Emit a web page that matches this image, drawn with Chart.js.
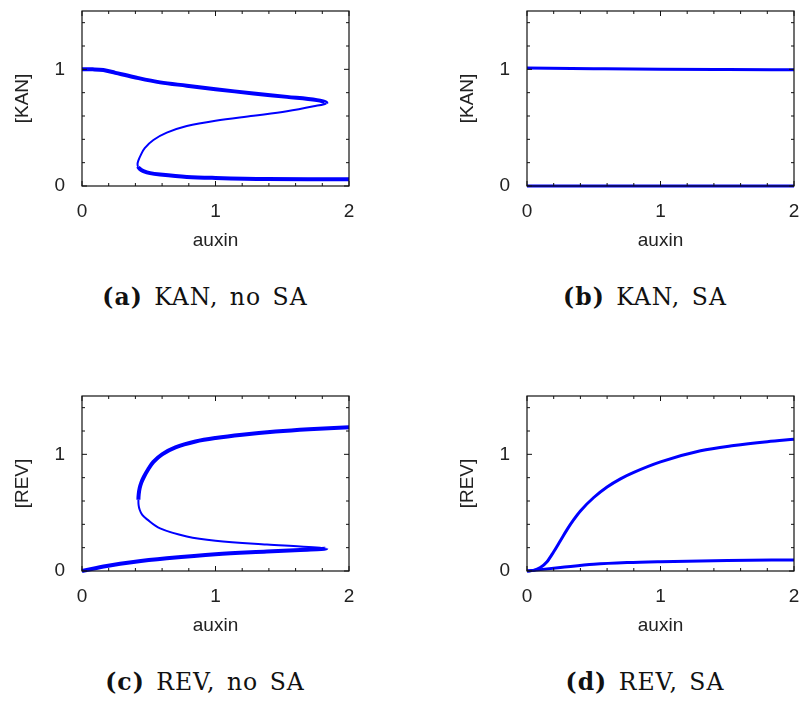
<!DOCTYPE html>
<html>
<head>
<meta charset="utf-8">
<script src="https://cdn.jsdelivr.net/npm/chart.js@4.4.1/dist/chart.umd.min.js"></script>
<style>
  html, body { margin: 0; padding: 0; background: #fff; overflow: hidden; }
  body { width: 803px; height: 706px; position: relative; }
  .panel { position: absolute; width: 358px; height: 260px; }
  .cap {
    position: absolute; width: 300px; text-align: center;
    font-family: "DejaVu Serif", serif; font-size: 23.5px; color: #111;
    white-space: nowrap; letter-spacing: 1px; word-spacing: 3px;
  }
  .cap b { font-weight: bold; }
</style>
</head>
<body>
<div class="panel" style="left:0px;top:0px"><canvas id="chA" width="358" height="260"></canvas></div>
<div class="panel" style="left:445px;top:0px"><canvas id="chB" width="358" height="260"></canvas></div>
<div class="panel" style="left:0px;top:385px"><canvas id="chC" width="358" height="260"></canvas></div>
<div class="panel" style="left:445px;top:385px"><canvas id="chD" width="358" height="260"></canvas></div>

<div class="cap" style="left:55px;top:283px"><b>(a)</b> KAN, no SA</div>
<div class="cap" style="left:495px;top:283px"><b>(b)</b> KAN, SA</div>
<div class="cap" style="left:55px;top:668px"><b>(c)</b> REV, no SA</div>
<div class="cap" style="left:495px;top:668px"><b>(d)</b> REV, SA</div>

<script>
// 目盛りラベル
const xTicks = [0, 1, 2];
const yTicks = [0, 1];

// (a) KAN, SAなし：上の安定枝 → 不安定枝 → 下の安定枝
const kanA_x = [0, 0.08, 0.16, 0.25, 0.385, 0.585, 0.785, 1.0, 1.285, 1.535, 1.76, 1.83,
                1.735, 1.535, 1.285, 1.0, 0.785, 0.635, 0.535, 0.47, 0.44, 0.422, 0.416,
                0.42, 0.435, 0.46, 0.51, 0.585, 0.785, 1.0, 1.385, 2.0];
const kanA_y = [1.0, 1.0, 0.994, 0.97, 0.934, 0.888, 0.86, 0.83, 0.793, 0.764, 0.736, 0.71,
                0.683, 0.64, 0.602, 0.56, 0.514, 0.457, 0.394, 0.325, 0.265, 0.218, 0.19,
                0.165, 0.145, 0.128, 0.11, 0.098, 0.078, 0.069, 0.06, 0.057];
const kanA_stable = [1, 1, 1, 1, 1, 1, 1, 1, 1, 1, 1, 1,
                     0, 0, 0, 0, 0, 0, 0, 0, 0, 0, 0,
                     1, 1, 1, 1, 1, 1, 1, 1, 1];

// (b) KAN, SAあり
const kanB_x = [0, 0.5, 1.0, 1.5, 2.0];
const kanB_hi = [1.011, 1.005, 1.0, 0.998, 0.997];
const kanB_lo = [0, 0, 0, 0, 0];

// (c) REV, SAなし：下の安定枝 → 不安定枝 → 上の安定枝
const revC_x = [0, 0.185, 0.385, 0.635, 1.0, 1.385, 1.635, 1.83,
                1.635, 1.385, 1.0, 0.785, 0.585, 0.485, 0.45, 0.432, 0.424,
                0.4225, 0.425, 0.432, 0.445, 0.465, 0.495, 0.535, 0.6, 0.7, 0.85, 1.0, 1.2, 1.45, 1.7, 2.0];
const revC_y = [0, 0.043, 0.078, 0.109, 0.144, 0.167, 0.181, 0.193,
                0.21, 0.227, 0.26, 0.296, 0.365, 0.445, 0.483, 0.525, 0.565,
                0.61, 0.66, 0.71, 0.76, 0.81, 0.87, 0.935, 1.0, 1.06, 1.11, 1.14, 1.168, 1.195, 1.215, 1.233];
const revC_stable = [1, 1, 1, 1, 1, 1, 1, 1,
                     0, 0, 0, 0, 0, 0, 0, 0, 0,
                     1, 1, 1, 1, 1, 1, 1, 1, 1, 1, 1, 1, 1, 1, 1];

// (d) REV, SAあり
const revD_x = [0, 0.05, 0.1, 0.15, 0.2, 0.25, 0.3, 0.35, 0.4, 0.5, 0.6, 0.7, 0.8, 1.0, 1.3, 1.55, 1.8, 2.0];
const revD_hi = [0, 0.005, 0.03, 0.08, 0.165, 0.26, 0.355, 0.44, 0.515, 0.63, 0.72, 0.79, 0.845, 0.935, 1.03, 1.075, 1.108, 1.129];
const revD_lox = [0, 0.25, 0.5, 0.75, 1.0, 1.5, 2.0];
const revD_lo = [0, 0.029, 0.057, 0.072, 0.08, 0.09, 0.095];

const BLUE = '#0000ff';
const FONT = '"Liberation Sans", Arial, sans-serif';

function pts(xs, ys) {
    return xs.map((v, i) => ({x: v, y: ys[i]}));
}

// 枠と内向きの目盛り線（gnuplot風）
const framePlugin = {
    id: 'frame',
    afterDatasetsDraw(chart) {
        const {ctx, chartArea: a, scales} = chart;
        const sx = scales.x, sy = scales.y;
        ctx.save();
        ctx.strokeStyle = '#111';
        ctx.lineWidth = 1.2;
        ctx.strokeRect(a.left, a.top, a.right - a.left, a.bottom - a.top);
        ctx.lineWidth = 1;
        ctx.beginPath();
        for (let i = 0; i <= 10; i++) {
            const px = sx.getPixelForValue(i * 0.2);
            const len = (i % 5 === 0) ? 5 : 3;
            ctx.moveTo(px, a.bottom); ctx.lineTo(px, a.bottom - len);
            ctx.moveTo(px, a.top); ctx.lineTo(px, a.top + len);
        }
        for (let i = 0; i <= 7; i++) {
            const py = sy.getPixelForValue(i * 0.2);
            const len = (i % 5 === 0) ? 5 : 3;
            ctx.moveTo(a.left, py); ctx.lineTo(a.left + len, py);
            ctx.moveTo(a.right, py); ctx.lineTo(a.right - len, py);
        }
        ctx.stroke();
        ctx.restore();
    }
};

function noPad(s) {
    s.paddingLeft = 0; s.paddingRight = 0; s.paddingTop = 0; s.paddingBottom = 0;
}

function makeChart(id, yLabel, datasets) {
    const ctx = document.getElementById(id).getContext('2d');
    return new Chart(ctx, {
        type: 'scatter',
        data: {datasets: datasets},
        plugins: [framePlugin],
        options: {
            responsive: false,
            animation: false,
            devicePixelRatio: 1,
            layout: {padding: {top: 11, right: 9, left: 0, bottom: 0}},
            plugins: {legend: {display: false}, tooltip: {enabled: false}},
            elements: {point: {radius: 0}},
            scales: {
                x: {
                    type: 'linear',
                    min: 0, max: 2,
                    grid: {display: false},
                    border: {display: false},
                    afterBuildTicks: s => { s.ticks = xTicks.map(v => ({value: v})); },
                    afterFit: s => { s.height = 74; noPad(s); },
                    ticks: {color: '#222', padding: 6, maxRotation: 0, font: {family: FONT, size: 19}},
                    title: {
                        display: true, text: 'auxin', color: '#222',
                        padding: {top: 0, bottom: 8},
                        font: {family: FONT, size: 19}
                    }
                },
                y: {
                    type: 'linear',
                    min: 0, max: 1.5,
                    grid: {display: false},
                    border: {display: false},
                    afterBuildTicks: s => { s.ticks = yTicks.map(v => ({value: v})); },
                    afterFit: s => { s.width = 82; noPad(s); },
                    ticks: {color: '#222', padding: 9, font: {family: FONT, size: 19}},
                    title: {
                        display: true, text: yLabel, color: '#222',
                        padding: {top: 11, bottom: 0},
                        font: {family: FONT, size: 19}
                    }
                }
            }
        }
    });
}

function foldSet(xs, ys, stable) {
    return {
        data: pts(xs, ys),
        showLine: true,
        borderColor: BLUE,
        borderWidth: 4,
        tension: 0.35,
        clip: 6,
        segment: {
            borderWidth: c => (stable[c.p0DataIndex] && stable[c.p1DataIndex]) ? 4 : 2
        }
    };
}

function simpleSet(xs, ys, w) {
    return {
        data: pts(xs, ys),
        showLine: true,
        borderColor: BLUE,
        borderWidth: w,
        cubicInterpolationMode: 'monotone',
        clip: 6
    };
}

makeChart('chA', '[KAN]', [foldSet(kanA_x, kanA_y, kanA_stable)]);
makeChart('chB', '[KAN]', [simpleSet(kanB_x, kanB_hi, 3), simpleSet(kanB_x, kanB_lo, 3)]);
makeChart('chC', '[REV]', [foldSet(revC_x, revC_y, revC_stable)]);
makeChart('chD', '[REV]', [simpleSet(revD_x, revD_hi, 3), simpleSet(revD_lox, revD_lo, 3)]);
</script>
</body>
</html>
